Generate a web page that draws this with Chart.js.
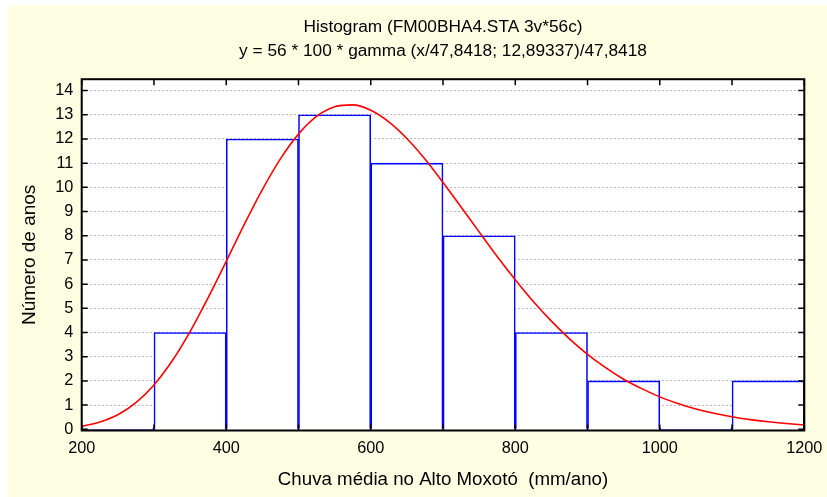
<!DOCTYPE html>
<html>
<head>
<meta charset="utf-8">
<script src="https://cdn.jsdelivr.net/npm/chart.js@4.4.1/dist/chart.umd.min.js"></script>
<style>
  html, body { margin: 0; padding: 0; background: #ffffff; }
  #wrap { width: 827px; height: 497px; position: relative; }
  canvas { display: block; }
</style>
</head>
<body>
<div id="wrap"><canvas id="c" width="827" height="497"></canvas></div>
<script>
// ---- texts ----
const titleText = 'Histogram (FM00BHA4.STA 3v*56c)';
const subtitleText = 'y = 56 * 100 * gamma (x/47,8418; 12,89337)/47,8418';
const xAxisTitle = 'Chuva média no Alto Moxotó  (mm/ano)';
const yAxisTitle = 'Número de anos';

// ---- histogram bins (centres of 100 mm classes) and counts ----
const binCenters = [250, 350, 450, 550, 650, 750, 850, 950, 1050, 1150];
const binCounts  = [0, 4, 12, 13, 11, 8, 4, 2, 0, 2];

// ---- fitted curve ----
const curveX = [200, 225, 250, 275, 300, 325, 350, 375, 400, 425,
                450, 475, 500, 525, 550, 575, 600, 625, 650, 675,
                700, 725, 750, 775, 800, 825, 850, 875, 900, 925,
                950, 975, 1000, 1025, 1050, 1075, 1100, 1125, 1150, 1175, 1200];
const curveY = [0.12, 0.30, 0.60, 1.10, 1.83, 2.82, 4.04, 5.44, 6.94, 8.47,
                9.91, 11.18, 12.20, 12.93, 13.33, 13.41, 13.19, 12.71, 12.02, 11.17,
                10.20, 9.19, 8.16, 7.14, 6.18, 5.28, 4.47, 3.74, 3.10, 2.55,
                2.07, 1.68, 1.34, 1.07, 0.84, 0.66, 0.52, 0.40, 0.31, 0.24, 0.18];

// ---- tick labels ----
const xLabelValues = [200, 400, 600, 800, 1000, 1200];

Chart.defaults.font.family = "'Liberation Sans', Arial, Helvetica, sans-serif";
Chart.defaults.color = '#000000';

const bgPlugin = {
  id: 'bgPlugin',
  beforeDraw(chart) {
    const { ctx, chartArea: a } = chart;
    ctx.save();
    ctx.fillStyle = '#FEFEE2';
    ctx.fillRect(8, 5, chart.width - 8, chart.height - 5);
    ctx.fillStyle = '#FFFFFF';
    ctx.fillRect(a.left, a.top, a.right - a.left, a.bottom - a.top);
    ctx.restore();
  }
};

const framePlugin = {
  id: 'framePlugin',
  afterDatasetsDraw(chart) {
    const { ctx, chartArea: a, scales } = chart;
    const xs = scales.x, ys = scales.y;
    const L = 6;
    ctx.save();
    ctx.strokeStyle = '#000000';
    ctx.lineWidth = 1.5;
    ctx.beginPath();
    xs.ticks.forEach(t => {
      const px = xs.getPixelForValue(t.value);
      ctx.moveTo(px, a.bottom); ctx.lineTo(px, a.bottom - L);
      ctx.moveTo(px, a.top); ctx.lineTo(px, a.top + L);
    });
    ys.ticks.forEach(t => {
      const py = ys.getPixelForValue(t.value);
      ctx.moveTo(a.left, py); ctx.lineTo(a.left + L, py);
      ctx.moveTo(a.right, py); ctx.lineTo(a.right - L, py);
    });
    ctx.stroke();
    ctx.lineWidth = 2;
    ctx.strokeRect(a.left, a.top, a.right - a.left, a.bottom - a.top);
    ctx.restore();
  }
};

new Chart(document.getElementById('c'), {
  type: 'bar',
  data: {
    datasets: [
      {
        type: 'line',
        label: 'gamma',
        data: curveX.map((x, i) => ({ x: x, y: curveY[i] })),
        borderColor: '#FF0000',
        borderWidth: 1.6,
        pointRadius: 0,
        cubicInterpolationMode: 'monotone',
        fill: false,
        order: 0
      },
      {
        type: 'bar',
        label: 'Número de anos',
        data: binCenters.map((x, i) => ({ x: x, y: binCounts[i] })),
        backgroundColor: '#FFFFFF',
        borderColor: '#0000FF',
        borderWidth: 1.6,
        borderSkipped: 'start',
        barPercentage: 1,
        categoryPercentage: 1,
        minBarLength: 3,
        order: 1
      }
    ]
  },
  options: {
    responsive: false,
    animation: false,
    events: [],
    layout: { padding: { left: 10, right: 0, top: 5, bottom: 0 } },
    plugins: {
      legend: { display: false },
      tooltip: { enabled: false },
      title: {
        display: true, text: titleText, fullSize: false, color: '#000000',
        font: { size: 17.3, weight: 'normal' },
        padding: { top: 11.6, bottom: 0 }
      },
      subtitle: {
        display: true, text: subtitleText, fullSize: false, color: '#000000',
        font: { size: 17.3, weight: 'normal' },
        padding: { top: 3.4, bottom: 17.7 }
      }
    },
    scales: {
      x: {
        type: 'linear', position: 'bottom', min: 200, max: 1200, offset: false,
        afterFit: s => { s.paddingRight = 22.7; },
        grid: { display: false, drawTicks: false },
        border: { display: false },
        ticks: {
          stepSize: 100, autoSkip: false, maxRotation: 0, minRotation: 0,
          padding: 8, color: '#000000', font: { size: 16.3 },
          callback: v => xLabelValues.includes(v) ? String(v) : ''
        },
        title: {
          display: true, text: xAxisTitle, color: '#000000',
          font: { size: 18.7 }, padding: { top: 2.2, bottom: 6.3 }
        }
      },
      y: {
        type: 'linear', position: 'left', min: -0.05, max: 14.47,
        grid: {
          color: c => (c.tick && c.tick.value === 0) ? 'rgba(0,0,0,0)' : '#BBBBBB',
          lineWidth: 1, drawTicks: false
        },
        border: { display: false, dash: [2, 2] },
        ticks: {
          stepSize: 1, includeBounds: false, padding: 8.4, color: '#000000',
          font: { size: 16.3 }, callback: v => String(v)
        },
        title: {
          display: true, text: yAxisTitle, color: '#000000',
          font: { size: 19 }, padding: { top: 8.6, bottom: 5.4 }
        }
      }
    }
  },
  plugins: [bgPlugin, framePlugin]
});
</script>
</body>
</html>
